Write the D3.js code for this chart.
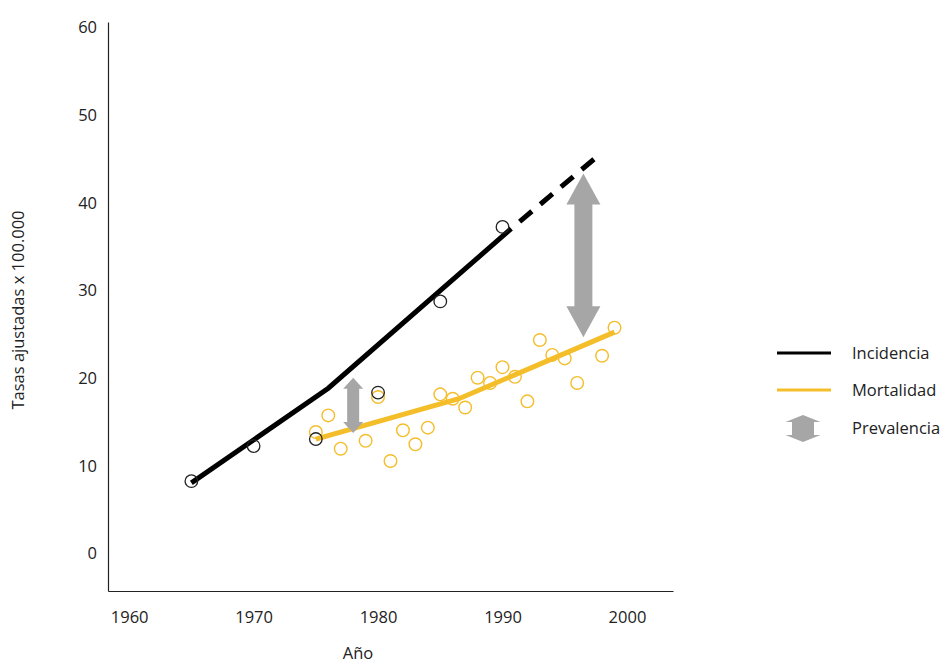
<!DOCTYPE html>
<html><head><meta charset="utf-8">
<script src="https://cdn.jsdelivr.net/npm/d3@7/dist/d3.min.js"></script>
<style>
body{margin:0;background:#fff;}
svg text{font-family:"Open Sans","Noto Sans",sans-serif;fill:#222;}
</style></head>
<body><svg id="c" width="941" height="664"></svg>
<script>
// ---- data ----
const incidenceYears = [1965, 1970, 1975, 1980, 1985, 1990];
const incidenceValues = [8.2, 12.2, 13.0, 18.3, 28.7, 37.2];
const incidenceFitYears = [1965, 1976, 1990.7];
const incidenceFitValues = [8.0, 18.8, 37.0];
const incidenceProjYears = [1990.7, 1997.5];
const incidenceProjValues = [37.0, 45.1];
const mortalityYears = [1975, 1976, 1977, 1979, 1980, 1981, 1982, 1983, 1984, 1985, 1986, 1987, 1988, 1989, 1990, 1991, 1992, 1993, 1994, 1995, 1996, 1998, 1999];
const mortalityValues = [13.8, 15.7, 11.9, 12.8, 17.8, 10.5, 14.0, 12.4, 14.3, 18.1, 17.6, 16.6, 20.0, 19.4, 21.2, 20.1, 17.3, 24.3, 22.6, 22.2, 19.4, 22.5, 25.7];
const mortalityFitYears = [1975, 1986.5, 1999];
const mortalityFitValues = [13.0, 17.6, 25.2];
const prevalenceYears = [1978, 1996.5];
const prevalenceLow = [13.7, 24.6];
const prevalenceHigh = [20.0, 43.3];
const xTicks = [1960, 1970, 1980, 1990, 2000];
const yTicks = [0, 10, 20, 30, 40, 50, 60];
const legendLabels = ["Incidencia", "Mortalidad", "Prevalencia"];

const BLACK = "#000", YELLOW = "#F4BD2A", GRAY = "#A6A6A6";
const FS = "16.5px";
const svg = d3.select("#c");
const x = d3.scaleLinear().domain([1958.3, 2003.7]).range([108, 673]);
const y = d3.scaleLinear().domain([-4.33, 60.57]).range([591, 22]);

// axes
const xa = svg.append("g").attr("transform", "translate(0,591)")
  .call(d3.axisBottom(x).tickValues(xTicks).tickFormat(d3.format("d")).tickSize(0).tickPadding(20));
xa.select(".domain").attr("stroke", "#222").attr("stroke-width", 1.2);
xa.selectAll("text").style("font-size", FS).attr("fill", "#222");
const ya = svg.append("g").attr("transform", "translate(108,0)")
  .call(d3.axisLeft(y).tickValues(yTicks).tickSize(0).tickPadding(11));
ya.select(".domain").attr("stroke", "#222").attr("stroke-width", 1.2);
ya.selectAll("text").style("font-size", FS).attr("fill", "#222").attr("dy", "0.35em");

svg.append("text").attr("x", 358).attr("y", 653).attr("text-anchor", "middle")
  .attr("dy", "0.35em").style("font-size", FS).text("Año");
svg.append("text").attr("transform", "translate(18,310) rotate(-90)").attr("text-anchor", "middle")
  .attr("dy", "0.35em").style("font-size", FS).text("Tasas ajustadas x 100.000");

// mortality circles
svg.append("g").selectAll("circle").data(mortalityYears).join("circle")
  .attr("cx", (d) => x(d)).attr("cy", (d, i) => y(mortalityValues[i])).attr("r", 6.3)
  .attr("fill", "none").attr("stroke", YELLOW).attr("stroke-width", 1.4);

const line = d3.line().x(d => x(d[0])).y(d => y(d[1]));
svg.append("path").attr("d", line(mortalityFitYears.map((d, i) => [d, mortalityFitValues[i]])))
  .attr("fill", "none").attr("stroke", YELLOW).attr("stroke-width", 5);
svg.append("path").attr("d", line(incidenceFitYears.map((d, i) => [d, incidenceFitValues[i]])))
  .attr("fill", "none").attr("stroke", BLACK).attr("stroke-width", 5);
svg.append("path").attr("d", line(incidenceProjYears.map((d, i) => [d, incidenceProjValues[i]])))
  .attr("fill", "none").attr("stroke", BLACK).attr("stroke-width", 5)
  .attr("stroke-dasharray", "16,11").attr("stroke-dashoffset", 16);

// incidence circles
svg.append("g").selectAll("circle").data(incidenceYears).join("circle")
  .attr("cx", (d) => x(d)).attr("cy", (d, i) => y(incidenceValues[i])).attr("r", 6.3)
  .attr("fill", "none").attr("stroke", "#222").attr("stroke-width", 1.3);

// double arrows
function dArrow(cx, y1, y2, headW, shaftW, headL) {
  const hw = headW / 2, sw = shaftW / 2;
  return `M${cx},${y1} L${cx + hw},${y1 + headL} L${cx + sw},${y1 + headL} L${cx + sw},${y2 - headL} L${cx + hw},${y2 - headL} L${cx},${y2} L${cx - hw},${y2 - headL} L${cx - sw},${y2 - headL} L${cx - sw},${y1 + headL} L${cx - hw},${y1 + headL} Z`;
}
const arrowDims = [[20, 12, 11], [34, 18, 31]];
prevalenceYears.forEach((yr, i) => {
  const [hw, sw, hl] = arrowDims[i];
  svg.append("path").attr("d", dArrow(x(yr), y(prevalenceHigh[i]), y(prevalenceLow[i]), hw, sw, hl)).attr("fill", GRAY);
});

// legend
const lg = svg.append("g");
const ly = [353, 390, 428];
lg.append("line").attr("x1", 777).attr("x2", 831).attr("y1", ly[0]).attr("y2", ly[0]).attr("stroke", BLACK).attr("stroke-width", 3);
lg.append("line").attr("x1", 777).attr("x2", 831).attr("y1", ly[1]).attr("y2", ly[1]).attr("stroke", YELLOW).attr("stroke-width", 3);
lg.append("path").attr("d", dArrow(803, 415, 442, 35, 22, 7)).attr("fill", GRAY);
legendLabels.forEach((t, i) => {
  lg.append("text").attr("x", 852).attr("y", ly[i]).attr("dy", "0.35em").style("font-size", FS).text(t);
});
</script></body></html>
